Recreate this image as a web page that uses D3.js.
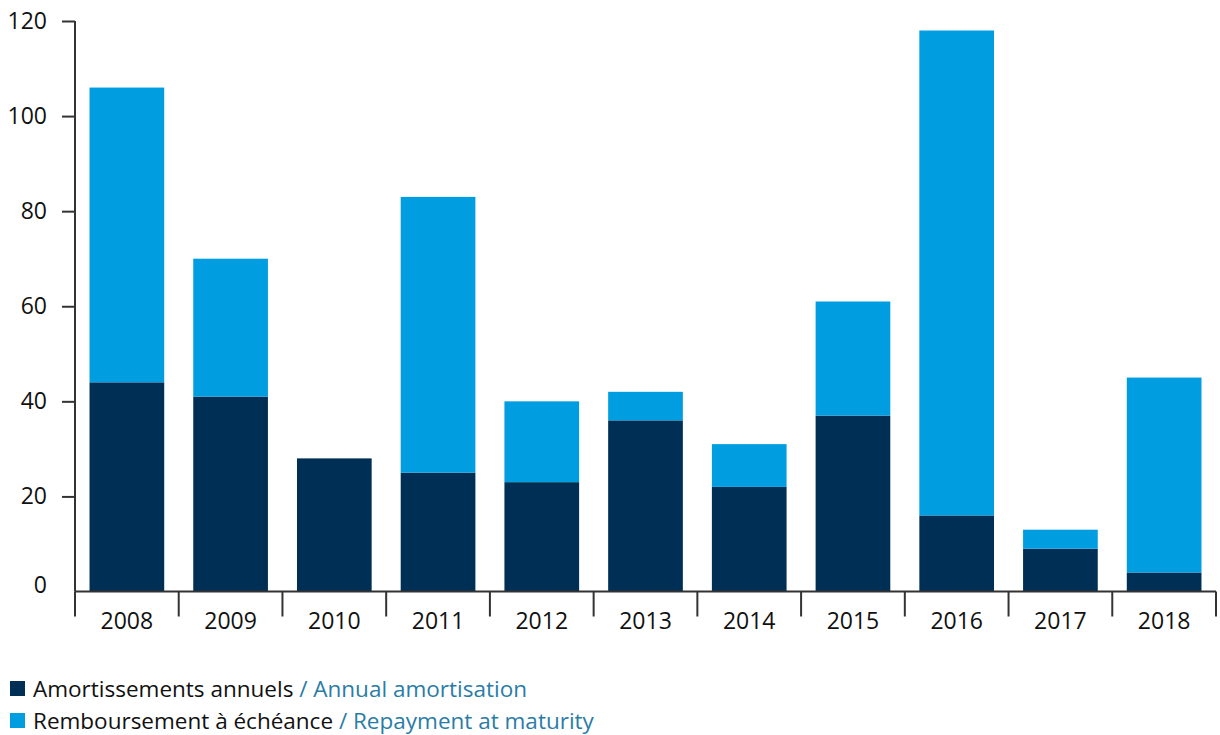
<!DOCTYPE html>
<html>
<head>
<meta charset="utf-8">
<script src="https://cdn.jsdelivr.net/npm/d3@7"></script>
<style>
  body { margin: 0; background: #fff; }
  text { font-family: "Open Sans", "Noto Sans", sans-serif; }
</style>
</head>
<body>
<div id="chart"></div>
<script>
var years = ['2008', '2009', '2010', '2011', '2012', '2013', '2014', '2015', '2016', '2017', '2018']
var amortisation = [44, 41, 28, 25, 23, 36, 22, 37, 16, 9, 4]
var repayment = [62, 29, 0, 58, 17, 6, 9, 24, 102, 4, 41]
var yTicks = [0, 20, 40, 60, 80, 100, 120]

var seriesKeys = ['amortisation', 'repayment']
var colors = {amortisation: '#002f55', repayment: '#009ee0'}

var width = 1220, height = 735,
	margins = {top: 21, right: 4, bottom: 144, left: 75}

var rows = years.map(function(y, i) {
	return {year: y, amortisation: amortisation[i], repayment: repayment[i]}
})

var svg = d3.select('#chart').append('svg')
	.attr('width', width)
	.attr('height', height)

var x = d3.scaleBand()
	.domain(years)
	.range([margins.left, width - margins.right])
	.paddingInner(0.28)
	.paddingOuter(0.14)

var y = d3.scaleLinear()
	.domain([0, 120])
	.range([height - margins.bottom + 0.5, margins.top])

var stack = d3.stack().keys(seriesKeys)(rows)

svg.append('g')
	.selectAll('g')
	.data(stack)
	.join('g')
	.attr('fill', function(d) { return colors[d.key] })
	.selectAll('rect')
	.data(function(d) { return d })
	.join('rect')
	.attr('x', function(d) { return x(d.data.year) })
	.attr('y', function(d) { return y(d[1]) })
	.attr('width', x.bandwidth())
	.attr('height', function(d) { return Math.max(0, y(d[0]) - y(d[1])) })

// y axis
var yAxis = svg.append('g')
	.attr('transform', 'translate(' + margins.left + ',0)')
	.call(d3.axisLeft(y).tickValues(yTicks).tickSize(13).tickPadding(15))
yAxis.select('.domain').remove()
yAxis.append('line')
	.attr('x1', 0).attr('x2', 0)
	.attr('y1', y(120)).attr('y2', y(0))
	.attr('stroke', '#333').attr('stroke-width', 2)
yAxis.selectAll('.tick line').attr('stroke', '#333').attr('stroke-width', 2)
yAxis.selectAll('.tick text')
	.attr('font-size', 23)
	.attr('fill', '#111')
// the zero tick has no mark and its label sits a bit higher
yAxis.selectAll('.tick').filter(function(d) { return d === 0 })
	.call(function(t) {
		t.select('line').remove()
		t.select('text').attr('y', -6)
	})

// x axis with ticks at band edges
var x0 = y(0)
var xAxis = svg.append('g')
xAxis.append('line')
	.attr('x1', margins.left).attr('x2', width - margins.right)
	.attr('y1', x0).attr('y2', x0)
	.attr('stroke', '#333').attr('stroke-width', 2)
var edges = years.map(function(d) { return x(d) - x.step() * x.paddingInner() / 2 })
edges.push(width - margins.right)
edges[0] = margins.left
xAxis.selectAll('line.edge')
	.data(edges)
	.join('line')
	.attr('class', 'edge')
	.attr('x1', function(d) { return d }).attr('x2', function(d) { return d })
	.attr('y1', x0).attr('y2', x0 + 25)
	.attr('stroke', '#333').attr('stroke-width', 2)
xAxis.selectAll('text')
	.data(years)
	.join('text')
	.attr('x', function(d) { return x(d) + x.bandwidth() / 2 })
	.attr('y', x0 + 37)
	.attr('text-anchor', 'middle')
	.attr('font-size', 23)
	.attr('fill', '#111')
	.text(function(d) { return d })

// legend
var legendItems = [
	{key: 'amortisation', fr: 'Amortissements annuels', en: 'Annual amortisation'},
	{key: 'repayment', fr: 'Remboursement à échéance', en: 'Repayment at maturity'}
]
var legend = svg.append('g')
legendItems.forEach(function(item, i) {
	var ly = 689 + i * 32
	legend.append('rect')
		.attr('x', 10).attr('y', ly - 8)
		.attr('width', 15).attr('height', 15)
		.attr('fill', colors[item.key])
	var t = legend.append('text')
		.attr('x', 33).attr('y', ly + 8)
		.attr('font-size', 22.5)
	t.append('tspan').attr('fill', '#111').text(item.fr)
	t.append('tspan').attr('fill', '#2a7ca6').text(' / ' + item.en)
})
</script>
</body>
</html>
